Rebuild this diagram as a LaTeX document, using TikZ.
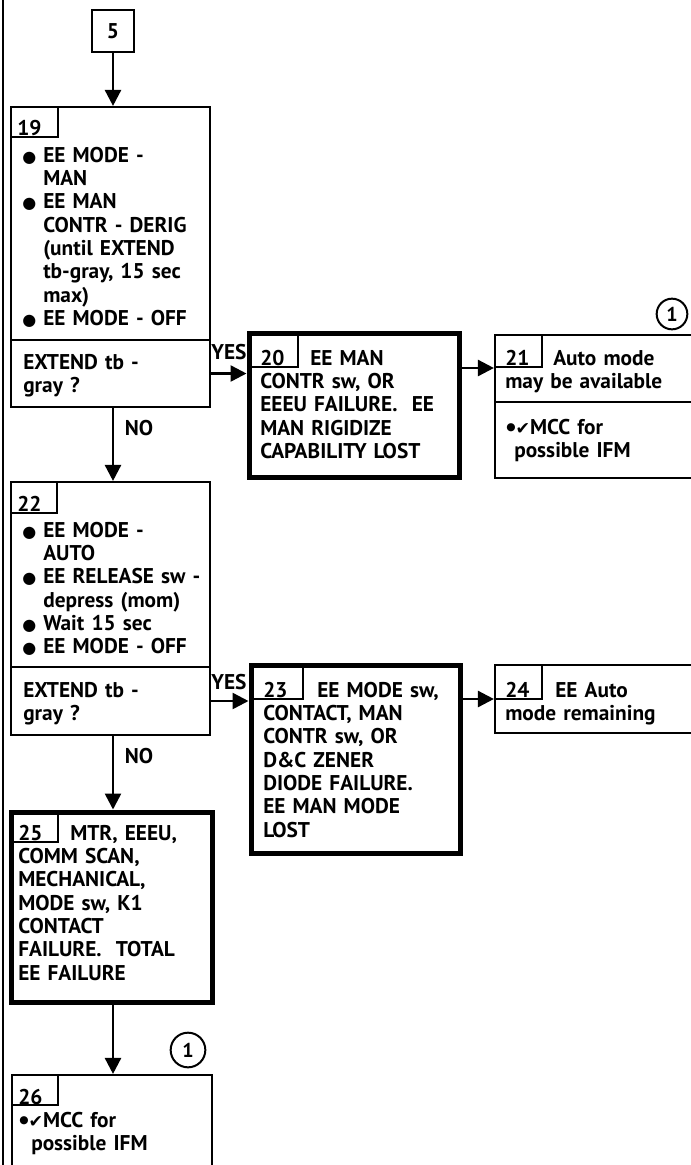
\documentclass[tikz,border=0pt]{standalone}
\usepackage{fontspec}
\setmainfont{PT Sans}
\newfontfamily\symf{DejaVu Sans}
\usetikzlibrary{arrows.meta,fit}
\newcommand\bul{\makebox[15.75pt][l]{\symf\fontsize{12pt}{12pt}\selectfont ●}}
\newcommand\ind{\hspace*{15.75pt}}
\newcommand\chk{\raisebox{3pt}{\symf\fontsize{8pt}{8pt}\selectfont ●}{\symf\fontsize{13pt}{13pt}\selectfont ✔}}
\begin{document}
\begin{tikzpicture}[x=0.75pt,y=-0.75pt,
  bx/.style={draw, line width=1.6pt, inner sep=0pt},
  bxk/.style={draw, line width=3.75pt, inner sep=0pt},
  tabx/.style={draw, line width=1.1pt, inner sep=0pt},
  txt/.style={anchor=base west, inner sep=0pt, align=left, text width=210pt,
    font=\fontsize{16pt}{17.5pt}\selectfont\bfseries},
  lbl/.style={inner sep=0pt, font=\fontsize{16pt}{17.5pt}\selectfont\bfseries},
  arr/.style={line width=1.9pt, -{Triangle[width=12pt,length=12pt]}},
  conn/.style={draw, circle, line width=1.5pt, inner sep=0pt,
    font=\fontsize{15pt}{15pt}\selectfont\bfseries}]
\useasboundingbox (0,0) rectangle (691,1165);
\clip (0,0) rectangle (691,1165);
% left border
\coordinate (lt) at (3,-5);
\coordinate (lb) at (3,1170);
\draw[line width=1.6pt] (lt) -- (lb);
% box 5
\node[bx, line width=2pt, fit={(92,10) (134,52)}] (n5) {};
\node[lbl] (l5) at (n5.center) {5};
% box 19
\node[bx, fit={(11,107) (210,340)}] (s19) {};
\node[bx, fit={(11,340) (210,407)}] (d19) {};
\node[tabx, fit={(11,107) (58,137)}] (t19) {};
\node[txt] (n19) at (17,135) {19};
\node[txt] (x19) at (22,162) {\bul EE MODE -\\\ind MAN\\\bul EE MAN\\\ind CONTR - DERIG\\\ind (until EXTEND\\\ind tb-gray, 15 sec\\\ind max)\\\bul EE MODE - OFF};
\node[txt] (q19) at (23,369) {EXTEND tb -\\gray ?};
% box 20
\node[bxk, fit={(249,333) (459,477)}] (b20) {};
\node[tabx, fit={(249,333) (298,367)}] (t20) {};
\node[txt] (n20) at (260,365) {20};
\node[txt] (x20) at (260,365) {\hspace*{37.5pt}EE MAN\\CONTR sw, OR\\EEEU FAILURE.\ \ EE\\MAN RIGIDIZE\\CAPABILITY LOST};
% box 21
\node[bx, fit={(495,335) (705,402)}] (b21) {};
\node[bx, fit={(495,402) (705,478)}] (b21l) {};
\node[tabx, fit={(495,335) (542,367)}] (t21) {};
\node[txt] (n21) at (505,365) {21};
\node[txt] (x21) at (505,365) {\hspace*{36pt}Auto mode\\may be available};
\node[txt] (y21) at (506,434) {\chk MCC for\\\hspace*{6pt}possible IFM};
\node[conn, minimum size=23pt] (c1a) at (672,314) {1};
% box 22
\node[bx, fit={(11,482) (210,667)}] (s22) {};
\node[bx, fit={(11,667) (210,735)}] (d22) {};
\node[tabx, fit={(11,482) (57,513)}] (t22) {};
\node[txt] (n22) at (17,511) {22};
\node[txt] (x22) at (22,537) {\bul EE MODE -\\\ind AUTO\\\bul EE RELEASE sw -\\\ind depress (mom)\\\bul Wait 15 sec\\\bul EE MODE - OFF};
\node[txt] (q22) at (23,697) {EXTEND tb -\\gray ?};
% box 23
\node[bxk, fit={(251,665) (460,853)}] (b23) {};
\node[tabx, fit={(251,665) (303,699)}] (t23) {};
\node[txt] (n23) at (263,697) {23};
\node[txt] (x23) at (263,697) {\hspace*{40.5pt}EE MODE sw,\\CONTACT, MAN\\CONTR sw, OR\\D\&C ZENER\\DIODE FAILURE.\\EE MAN MODE\\LOST};
% box 24
\node[bx, fit={(495,665) (705,733)}] (b24) {};
\node[tabx, fit={(495,665) (542,699)}] (t24) {};
\node[txt] (n24) at (505,697) {24};
\node[txt] (x24) at (505,697) {\hspace*{37.5pt}EE Auto\\mode remaining};
% box 25
\node[bxk, fit={(11,812) (212,1002)}] (b25) {};
\node[tabx, fit={(11,812) (58,842)}] (t25) {};
\node[txt] (n25) at (18,840) {25};
\node[txt] (x25) at (18,840) {\hspace*{39pt}MTR, EEEU,\\COMM SCAN,\\MECHANICAL,\\MODE sw, K1\\CONTACT\\FAILURE.\ \ TOTAL\\EE FAILURE};
% box 26
\node[bx, fit={(12,1075) (212,1185)}] (b26) {};
\node[tabx, fit={(12,1075) (58,1105)}] (t26) {};
\node[txt] (n26) at (18,1104) {26};
\node[txt] (y26) at (19,1127) {\chk MCC for\\\hspace*{9pt}possible IFM};
\node[conn, minimum size=26pt] (c1b) at (188,1050) {1};
% connectors
\coordinate (a21) at (0,368);
\draw[arr] (n5.south) -- (n5.south |- s19.north);
\draw[arr] (d19.south -| n5) -- (s22.north -| n5);
\draw[arr] (d19.east) -- (d19.east -| b20.west);
\draw[arr] (b20.east |- a21) -- (b21.west |- a21);
\draw[arr] (d22.south -| n5) -- (b25.north -| n5);
\draw[arr] (d22.east) -- (d22.east -| b23.west);
\draw[arr] (b23.east |- b24.west) -- (b24.west);
\draw[arr] (b25.south -| n5) -- (b26.north -| n5);
% labels
\node[lbl] (yes1) at (229,352) {YES};
\node[lbl] (no1) at (139,428) {NO};
\node[lbl] (yes2) at (229,682) {YES};
\node[lbl] (no2) at (139,756) {NO};
\end{tikzpicture}
\end{document}
